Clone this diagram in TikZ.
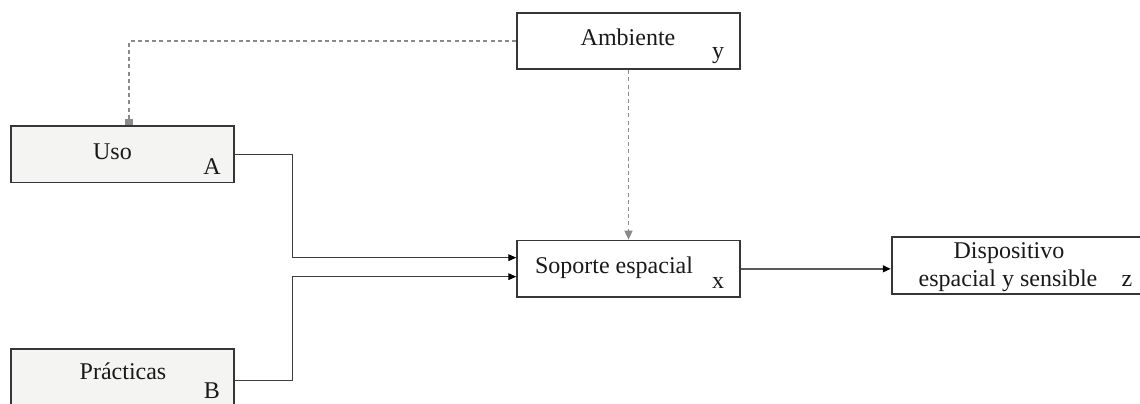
\documentclass[tikz,border=0pt]{standalone}
\usepackage{fontspec}
\setmainfont{Liberation Serif}
\usepackage{tikz}
\usetikzlibrary{arrows.meta, positioning, calc}
\definecolor{boxline}{HTML}{363636}
\definecolor{boxfill}{HTML}{F4F4F2}
\definecolor{linkgray}{HTML}{3C3C3C}
\definecolor{dashgray}{HTML}{8A8A8A}

\begin{document}
\begin{tikzpicture}[x=0.5pt, y=-0.5pt,
  box/.style={draw=boxline, line width=0.9pt, inner sep=0pt, minimum width=111.35pt, minimum height=28.3pt},
  txt/.style={font=\fontsize{12}{14}\selectfont, anchor=base, inner sep=0pt, text=black!90},
  link/.style={draw=linkgray, line width=0.55pt, -{Triangle[length=4pt,width=3.4pt,color=black]}},
  dashlink/.style={draw=dashgray, line width=0.8pt, dash pattern=on 2pt off 1.6pt}
]
  \useasboundingbox (0,0) rectangle (1140,403);

  % Boxes
  \node[box, fill=boxfill] (uso) at (122.35,154.2) {};
  \node[box, fill=boxfill, minimum height=31.5pt] (prac) at (122.35,380.5) {};
  \node[box] (amb) at (628.5,41) {};
  \node[box] (sop) at (628.5,268.85) {};
  \node[box, minimum width=150pt] (disp) at (1041.7,265.65) {};

  % Labels
  \node[txt] (usoT) at (112.5,159.5) {Uso};
  \node[txt] (usoL) at (212,174) {A};
  \node[txt] (pracT) at (123,379.7) {Prácticas};
  \node[txt] (pracL) at (212,398) {B};
  \node[txt] (ambT) at (628,45.7) {Ambiente};
  \node[txt] (ambL) at (718,58) {y};
  \node[txt] (sopT) at (614,273.3) {Soporte espacial};
  \node[txt] (sopL) at (718,288.3) {x};
  \node[txt] (dispT) at (1009,258) {Dispositivo};
  \node[txt] (dispS) at (1008,286.7) {espacial y sensible};
  \node[txt] (dispL) at (1127,286.7) {z};

  % Entry points
  \coordinate (inA) at ([yshift=5.6pt]sop.west);
  \coordinate (inB) at ([yshift=-3.9pt]sop.west);
  \coordinate (usoTop) at ([xshift=3.45pt]uso.north);
  \coordinate (pracOut) at ([yshift=-0.1pt]prac.east);

  % Connectors
  \draw[link] (uso.east) -- ++(58,0) |- (inA);
  \draw[link] (pracOut) -- ++(58,0) |- (inB);
  \draw[link, line width=0.9pt, draw=linkgray!85] (sop.east) -- (sop.east -| disp.west);
  \draw[dashlink, -{Triangle[length=4.5pt,width=4pt]}, dashgray] (amb.south) -- (sop.north);
  \draw[dashlink, -{Square[length=3.2pt,width=4pt]}, dashgray] (amb.west) -| (usoTop);

\end{tikzpicture}
\end{document}
